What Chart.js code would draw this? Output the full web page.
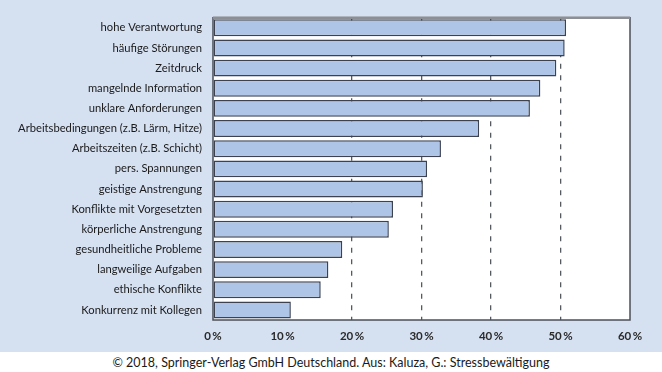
<!DOCTYPE html>
<html>
<head>
<meta charset="utf-8">
<script src="https://cdn.jsdelivr.net/npm/chart.js@4"></script>
<style>
  html, body { margin: 0; padding: 0; background: #ffffff; }
  #panel { width: 662px; height: 352px; background: #d5e0f1; position: relative; }
  #caption { height: 20px; line-height: 21px; text-align: center; font-family: Lato, sans-serif; font-size: 12.5px; color: #1a1a1a; }
</style>
</head>
<body>
<div id="panel"><canvas id="chart" width="662" height="352"></canvas></div>
<div id="caption">© 2018, Springer-Verlag GmbH Deutschland. Aus: Kaluza, G.: Stressbewältigung</div>
<script>
// Belastungsfaktoren (Anteil in %)
const kategorien = [
    "hohe Verantwortung",
    "häufige Störungen",
    "Zeitdruck",
    "mangelnde Information",
    "unklare Anforderungen",
    "Arbeitsbedingungen (z.B. Lärm, Hitze)",
    "Arbeitszeiten (z.B. Schicht)",
    "pers. Spannungen",
    "geistige Anstrengung",
    "Konflikte mit Vorgesetzten",
    "körperliche Anstrengung",
    "gesundheitliche Probleme",
    "langweilige Aufgaben",
    "ethische Konflikte",
    "Konkurrenz mit Kollegen"
];
const werte = [50.8, 50.6, 49.4, 47.1, 45.6, 38.3, 32.8, 30.8, 30.2, 25.9, 25.3, 18.6, 16.6, 15.5, 11.2];
const gestrichelteLinien = [20, 30, 40, 50];

// weisse Plotflaeche mit Rahmen
const plotBox = {
    id: "plotBox",
    beforeDraw(chart) {
        const { ctx, chartArea: a } = chart;
        ctx.save();
        ctx.fillStyle = "#ffffff";
        ctx.fillRect(a.left, a.top, a.right - a.left, a.bottom - a.top);
        ctx.restore();
    },
    afterDraw(chart) {
        const { ctx, chartArea: a } = chart;
        ctx.save();
        ctx.strokeStyle = "#4a4f58";
        ctx.lineWidth = 1.5;
        ctx.strokeRect(a.left, a.top, a.right - a.left, a.bottom - a.top);
        ctx.strokeStyle = "#8c8f94";
        ctx.lineWidth = 2.5;
        ctx.beginPath();
        ctx.moveTo(a.left, a.top);
        ctx.lineTo(a.right, a.top);
        ctx.stroke();
        ctx.restore();
    }
};

new Chart(document.getElementById("chart"), {
    type: "bar",
    data: {
        labels: kategorien,
        datasets: [{
            data: werte,
            backgroundColor: "#aec5e7",
            borderColor: "#3c4250",
            borderWidth: 1.5,
            borderSkipped: false,
            barPercentage: 0.84,
            categoryPercentage: 1
        }]
    },
    options: {
        indexAxis: "y",
        responsive: false,
        animation: false,
        layout: { padding: { top: 14, right: 32, left: 0, bottom: 0 } },
        plugins: { legend: { display: false }, tooltip: { enabled: false } },
        scales: {
            x: {
                min: 0,
                max: 60,
                afterFit: (s) => { s.height = 32; },
                grid: {
                    drawTicks: false,
                    color: (c) => gestrichelteLinien.includes(c.tick && c.tick.value) ? "#555a60" : "rgba(0,0,0,0)",
                    lineWidth: 1.3
                },
                // border.dash gilt in v4 fuer die Gitterlinien
                border: { display: false, dash: [5, 6.5] },
                ticks: {
                    stepSize: 10,
                    padding: 9,
                    color: "#2a2a2a",
                    font: { family: "Lato", size: 11.5, weight: "bold" },
                    callback: (v) => v + "\u2009%"
                }
            },
            y: {
                afterFit: (s) => { s.width = 213; },
                grid: { display: false, drawTicks: false },
                border: { display: false },
                ticks: {
                    padding: 11,
                    color: "#1a1a1a",
                    font: { family: "Lato", size: 11.2 }
                }
            }
        }
    },
    plugins: [plotBox]
});
</script>
</body>
</html>
